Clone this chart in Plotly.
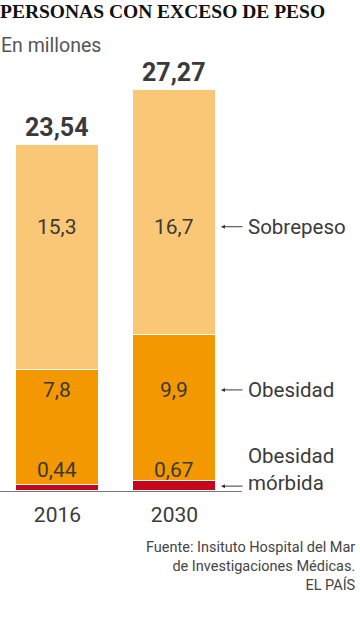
import plotly.graph_objects as go

years = ["2016", "2030"]
morbida = [0.44, 0.67]
obesidad = [7.8, 9.9]
sobrepeso = [15.3, 16.7]
totales = [23.54, 27.27]
morbida_lbl = ["0,44", "0,67"]
obesidad_lbl = ["7,8", "9,9"]
sobrepeso_lbl = ["15,3", "16,7"]
totales_lbl = ["23,54", "27,27"]
series_names = ["Obesidad mórbida", "Obesidad", "Sobrepeso"]

FONT = "Roboto"
TXT = "#3a3a3a"
colors = ["#C6061D", "#F39800", "#F9C775"]

fig = go.Figure()
for vals, name, col in zip([morbida, obesidad, sobrepeso], series_names, colors):
    fig.add_trace(go.Bar(x=years, y=vals, name=name, marker=dict(color=col, line=dict(color="white", width=1.5)),
                         width=0.71, hoverinfo="skip"))

ann = []
for i in range(2):
    ann.append(dict(x=i, y=17.96, text=sobrepeso_lbl[i], showarrow=False, font=dict(family=FONT, size=21, color=TXT)))
    ann.append(dict(x=i, y=6.87, text=obesidad_lbl[i], showarrow=False, font=dict(family=FONT, size=21, color=TXT)))
    ann.append(dict(x=i, y=1.40, text=morbida_lbl[i], showarrow=False, font=dict(family=FONT, size=21, color=TXT)))
    ann.append(dict(x=i, y=totales[i], text="<b>%s</b>" % totales_lbl[i], showarrow=False, yanchor="bottom", yshift=1,
                    font=dict(family=FONT, size=25, color=TXT)))

def arrow(y):
    ann.append(dict(xref="paper", x=221/242, y=y, ax=23, ay=0, showarrow=True, arrowhead=2, arrowsize=0.8,
                    arrowwidth=1, arrowcolor=TXT, text=""))

arrow(17.96)
ann.append(dict(xref="paper", x=246/242, y=17.96, text="Sobrepeso", showarrow=False, xanchor="left",
                font=dict(family=FONT, size=20.5, color=TXT)))
arrow(6.87)
ann.append(dict(xref="paper", x=246/242, y=6.87, text="Obesidad", showarrow=False, xanchor="left",
                font=dict(family=FONT, size=20.5, color=TXT)))
arrow(0.33)
ann.append(dict(xref="paper", yref="paper", x=246/242, y=0, yanchor="bottom", yshift=-6, text="Obesidad<br>mórbida",
                showarrow=False, xanchor="left", align="left", font=dict(family=FONT, size=20.5, color=TXT)))

ann.append(dict(xref="paper", yref="paper", x=-2/242, y=1, yshift=80, xanchor="left", yanchor="top", showarrow=False,
                text="<b>PERSONAS CON EXCESO DE PESO</b>", font=dict(family="Liberation Serif", size=19.5, color="#111")))
ann.append(dict(xref="paper", yref="paper", x=-1/242, y=1, yshift=47, xanchor="left", yanchor="top", showarrow=False,
                text="En millones", font=dict(family=FONT, size=19.5, color="#555")))
ann.append(dict(xref="paper", yref="paper", x=358/242, y=0, yshift=-46, xanchor="right", yanchor="top", showarrow=False,
                align="right", text="Fuente: Insituto Hospital del Mar<br>de Investigaciones Médicas.<br>EL PAÍS",
                font=dict(family=FONT, size=14.5, color="#444")))

fig.update_layout(
    width=360, height=628, barmode="stack", showlegend=False,
    margin=dict(l=0, r=118, t=79, b=137),
    paper_bgcolor="white", plot_bgcolor="white",
    bargap=0,
    annotations=ann,
    xaxis=dict(type="category", range=[-0.491, 1.577], showline=True, linecolor="#777", linewidth=1,
               ticks="outside", ticklen=5, tickcolor="rgba(0,0,0,0)",
               tickfont=dict(family=FONT, size=21, color=TXT), showgrid=False, fixedrange=True),
    yaxis=dict(range=[0, 28], visible=False, showgrid=False, fixedrange=True),
)
fig.write_html("out.html", config={"displayModeBar": False},
               post_script="document.body.style.margin='0';document.body.style.overflow='hidden';")
